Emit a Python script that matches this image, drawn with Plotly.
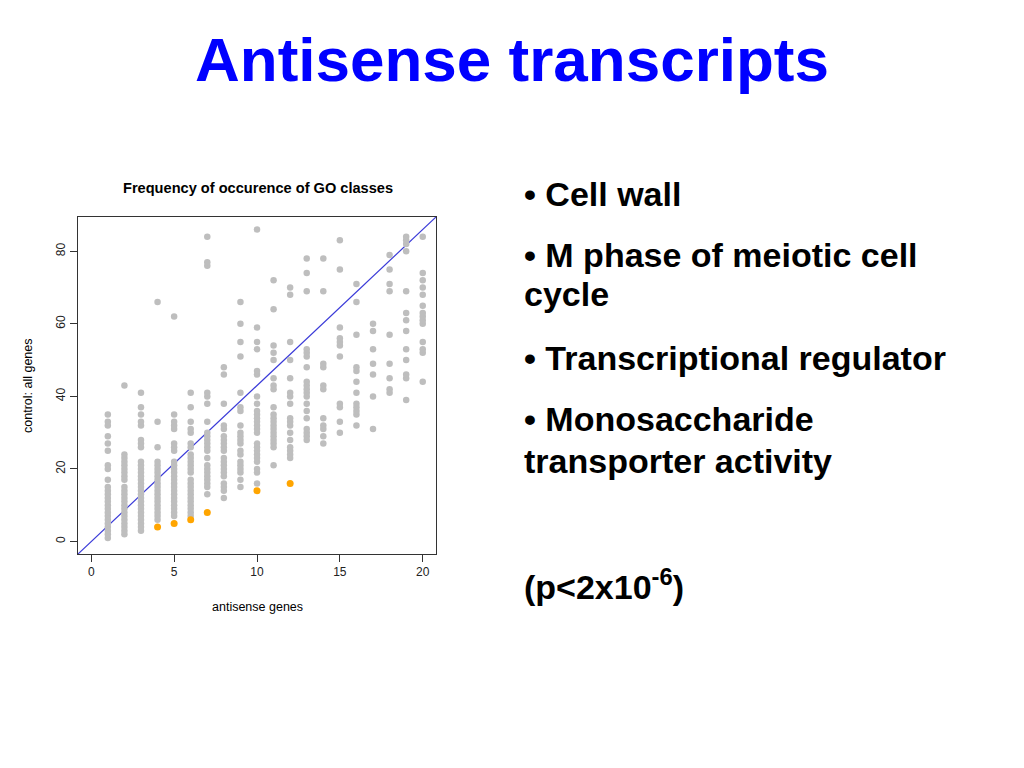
import plotly.graph_objects as go

# ---- data: control counts (y) per antisense-gene count (x) ----
col_01 = list(range(1, 16)) + [17, 20, 21, 25, 27, 29, 32, 33, 35]
col_02 = list(range(2, 16)) + list(range(17, 25)) + [43]
col_03 = list(range(3, 21)) + [21, 22, 26, 27, 28, 32, 33, 35, 37, 41]
col_04 = list(range(6, 23)) + [26, 33, 66]
col_05 = list(range(7, 23)) + [25, 26, 27, 31, 32, 33, 35, 62]
col_06 = list(range(7, 18)) + list(range(19, 25)) + [26, 27, 30, 31, 33, 37, 41]
col_07 = [13, 15, 16, 17, 18, 19, 20, 21, 23, 25, 26, 27, 28, 29, 30, 33, 38, 40, 41, 76, 77, 84]
col_08 = [12, 14, 15, 16, 18, 19, 20, 21, 22, 23, 25, 26, 27, 28, 29, 31, 32, 38, 46, 48]
col_09 = [15, 17, 19, 20, 21, 22, 24, 25, 27, 28, 29, 30, 32, 36, 37, 41, 51, 55, 60, 66]
col_10 = [16, 19, 20, 22, 23, 24, 25, 26, 27, 30, 31, 32, 33, 34, 35, 36, 38, 40, 46, 47, 53, 55, 59, 86]
col_11 = [21, 26, 27, 28, 29, 30, 31, 32, 33, 34, 35, 37, 42, 43, 45, 50, 52, 54, 64, 72]
col_12 = [23, 24, 25, 26, 28, 30, 32, 33, 34, 38, 40, 41, 45, 50, 55, 68, 70]
col_13 = [28, 29, 30, 31, 34, 36, 38, 40, 41, 42, 43, 44, 48, 51, 52, 53, 69, 74, 78]
col_14 = [27, 29, 31, 32, 34, 42, 43, 48, 49, 69, 78]
col_15 = [30, 33, 37, 38, 51, 54, 55, 56, 59, 75, 83]
col_16 = [32, 35, 36, 37, 38, 41, 44, 47, 48, 57, 66, 71]
col_17 = [31, 40, 46, 49, 53, 58, 60]
col_18 = [41, 42, 45, 49, 57, 69, 71, 75, 79]
col_19 = [39, 45, 46, 50, 53, 58, 61, 63, 69, 80, 82, 83, 84]
col_20 = [44, 52, 53, 55, 60, 61, 62, 63, 65, 68, 70, 72, 74, 84]

# highlighted (significant) GO classes
sig_x = [4, 5, 6, 7, 10, 12]
sig_y = [4, 5, 6, 8, 14, 16]

# expected ratio line (control / antisense)
ratio = 4.3

x_ticks = [0, 5, 10, 15, 20]
y_ticks = [0, 20, 40, 60, 80]

columns = [col_01, col_02, col_03, col_04, col_05, col_06, col_07, col_08, col_09, col_10,
           col_11, col_12, col_13, col_14, col_15, col_16, col_17, col_18, col_19, col_20]

gx, gy = [], []
for i, col in enumerate(columns, start=1):
    gx += [i] * len(col)
    gy += col

xr = [-0.8, 20.8]
yr = [-3.44, 89.44]

OFF = 8  # page body margin
W, H = 1024 - OFF, 768 - OFF
def px(v):
    return (v - OFF) / W
def py(v):
    return 1 - (v - OFF) / H

fig = go.Figure()
fig.add_trace(go.Scatter(x=xr, y=[ratio * v for v in xr], mode="lines",
                         line=dict(color="#3a3ad8", width=1.2), hoverinfo="skip"))
fig.add_trace(go.Scatter(x=gx, y=gy, mode="markers",
                         marker=dict(color="#bebebe", size=6.5, line=dict(width=0))))
fig.add_trace(go.Scatter(x=sig_x, y=sig_y, mode="markers",
                         marker=dict(color="#ffa500", size=7, line=dict(width=0))))

axis_common = dict(showgrid=False, zeroline=False, showline=True, linecolor="#333333",
                   linewidth=1, mirror=True, ticks="outside", ticklen=7, tickcolor="#333333",
                   tickfont=dict(family="Liberation Sans, Arial", size=12, color="#222222"))

fig.update_layout(
    width=W, height=H, margin=dict(l=0, r=0, t=0, b=0),
    paper_bgcolor="white", plot_bgcolor="white", showlegend=False,
    xaxis=dict(domain=[px(78), px(436)], range=xr, tickvals=x_ticks, **axis_common),
    yaxis=dict(domain=[py(554), py(217)], range=yr, tickvals=y_ticks, tickangle=-90, **axis_common),
)

def ann(text, x, y, size, bold=False, color="black", xanchor="left", textangle=0):
    fig.add_annotation(text=f"<b>{text}</b>" if bold else text, x=px(x), y=py(y),
                       xref="paper", yref="paper", xanchor=xanchor, yanchor="middle",
                       showarrow=False, textangle=textangle,
                       font=dict(family="Liberation Sans, Arial", size=size, color=color))

ann("Antisense transcripts", 512, 60, 62, bold=True, color="#0000ff", xanchor="center")
ann("Frequency of occurence of GO classes", 258, 188, 14.6, bold=True, xanchor="center")
ann("antisense genes", 257, 607, 12.5, xanchor="center")
ann("control: all genes", 28, 386, 12.5, xanchor="center", textangle=-90)

bullets = [("• Cell wall", 194.5), ("• M phase of meiotic cell", 255.5), ("cycle", 294),
           ("• Transcriptional regulator", 357.5), ("• Monosaccharide", 418.5),
           ("transporter activity", 460.5), ("(p<2x10<sup>-6</sup>)", 584.5)]
for t, yy in bullets:
    ann(t, 522, yy, 34, bold=True)

fig.write_html("out.html")
